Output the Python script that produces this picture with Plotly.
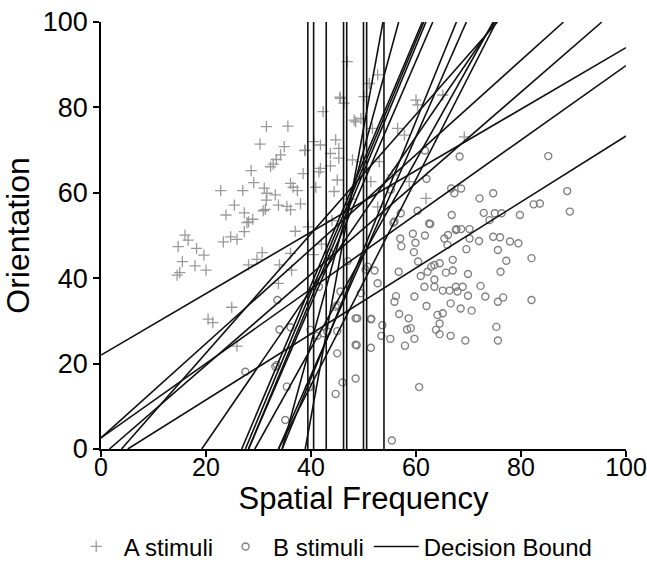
import plotly.graph_objects as go

# A stimuli (spatial frequency, orientation)
a_x = [46.9, 45.5, 46.3, 42.3, 48.2, 49.5, 31.5, 35.6, 30.3, 34.9, 38.8, 40.5, 41.8, 43.7, 44.7,
       45.3, 34.2, 33.4, 32.8, 32.3, 28.6, 41.8, 41.5, 43.7, 40.9, 29.1, 27.0, 22.8, 31.1, 31.6,
       33.2, 36.1, 36.6, 37.4, 38.0, 35.4, 36.1, 33.8, 31.5, 31.3, 30.9, 25.4, 23.8, 27.3, 28.9,
       28.1, 44.4, 45.0, 16.0, 16.6, 14.7, 18.2, 19.6, 15.5, 17.9, 20.0, 15.0, 14.5, 23.3, 24.7,
       25.9, 27.3, 27.8, 30.7, 29.7, 28.1, 24.9, 20.4, 21.3, 25.9, 34.0, 36.1, 33.8, 36.3, 38.9,
       45.6, 52.7, 51.1, 50.1, 60.0, 60.3, 65.1, 48.5, 51.7, 56.5, 57.8, 53.0, 49.5, 50.1, 47.9,
       45.3, 55.5, 58.7, 69.2, 61.9, 52.7, 51.4, 39.5, 42.0, 37.0, 40.5, 44.0, 47.5, 38.5]
a_y = [90.7, 82.4, 81.0, 79.0, 77.0, 77.4, 75.5, 75.6, 71.4, 70.8, 69.9, 72.0, 71.2, 69.2, 72.4,
       70.4, 68.9, 67.8, 66.7, 66.1, 65.2, 65.7, 64.9, 66.3, 61.3, 62.4, 60.5, 60.5, 61.1, 59.9,
       59.5, 62.2, 61.3, 60.5, 57.4, 56.8, 56.0, 57.1, 58.3, 56.1, 55.8, 57.1, 54.8, 55.3, 53.8,
       53.2, 60.3, 63.0, 50.1, 48.9, 47.4, 47.0, 45.4, 43.9, 42.9, 41.9, 41.3, 40.7, 48.5, 49.7,
       49.1, 50.9, 53.0, 46.0, 44.4, 43.1, 33.2, 30.4, 29.6, 24.1, 43.1, 45.8, 38.8, 41.9, 70.0,
       82.1, 87.6, 85.6, 82.5, 81.7, 80.6, 82.9, 76.6, 75.1, 75.1, 73.5, 67.3, 67.3, 65.3, 67.7,
       68.1, 64.2, 62.6, 73.1, 58.7, 56.7, 62.6, 52.0, 48.0, 51.0, 45.5, 53.5, 58.5, 64.5]

# B stimuli (spatial frequency, orientation)
b_x = [55.7, 62.7, 57.0, 57.2, 59.4, 59.9, 59.6, 61.7, 65.4, 66.1, 66.0, 67.7, 68.6, 70.2, 70.2,
       72.0, 69.6, 74.7, 76.0, 75.6, 77.9, 79.5, 82.0, 77.2, 76.1, 69.9, 67.0, 67.0, 65.7, 64.5,
       63.5, 62.2, 62.9, 60.4, 60.9, 63.5, 61.6, 63.5, 65.1, 66.4, 67.6, 68.9, 67.9, 69.9, 72.3,
       73.2, 75.6, 76.6, 82.0, 66.6, 68.5, 70.6, 65.1, 64.1, 64.5, 63.8, 64.5, 66.6, 69.4, 75.6,
       75.3, 62.0, 59.7, 56.2, 55.9, 56.8, 58.6, 58.3, 59.0, 59.7, 57.9, 55.1, 53.4, 53.6, 51.5,
       48.5, 48.7, 48.5, 46.0, 44.7, 45.0, 60.6, 55.4, 50.8, 52.1, 52.7, 50.4, 56.7, 61.7, 68.3,
       85.2, 66.7, 67.3, 68.6, 74.7, 72.1, 72.9, 75.0, 76.3, 79.8, 82.4, 83.6, 88.8, 89.3, 74.0,
       66.8, 62.5, 60.3, 57.1, 55.9, 62.0, 55.2, 67.6, 33.6, 34.0, 36.1, 39.9, 27.5, 33.2, 35.4,
       35.1, 40.0, 41.2, 44.7, 42.3, 45.6, 33.5, 39.6, 43.1, 45.0, 48.8, 51.4, 51.4, 45.0, 48.5,
       41.5, 47.0, 43.5, 49.5]
b_y = [53.0, 52.7, 49.3, 47.5, 50.4, 48.3, 46.1, 50.0, 49.3, 50.1, 47.8, 51.5, 51.5, 51.5, 49.3,
       48.7, 46.8, 49.7, 49.6, 46.6, 48.6, 48.2, 44.7, 44.1, 41.5, 41.0, 44.3, 41.8, 41.3, 43.5,
       43.1, 41.5, 42.7, 43.9, 40.5, 39.7, 38.0, 38.0, 37.1, 37.1, 38.0, 38.0, 36.9, 35.9, 38.2,
       35.7, 34.5, 35.5, 34.9, 34.1, 32.9, 32.4, 31.8, 31.4, 29.4, 27.9, 26.9, 26.5, 25.4, 25.4,
       28.6, 33.5, 35.7, 35.8, 34.5, 31.6, 30.6, 28.0, 28.3, 25.8, 24.2, 25.8, 26.5, 29.0, 30.5,
       30.6, 24.3, 16.5, 15.6, 12.9, 27.6, 14.5, 2.0, 42.7, 41.8, 38.8, 42.0, 41.5, 69.9, 68.5,
       68.6, 61.0, 59.9, 61.0, 59.9, 58.7, 55.3, 55.2, 55.2, 54.8, 57.3, 57.5, 60.4, 55.6, 53.6,
       54.8, 52.8, 55.8, 55.2, 53.3, 63.3, 60.7, 51.3, 34.9, 28.0, 28.5, 27.9, 18.1, 19.3, 14.6,
       6.8, 14.6, 26.5, 33.3, 27.1, 36.9, 19.7, 14.4, 27.5, 22.4, 30.6, 23.7, 30.4, 33.7, 24.4,
       38.0, 44.0, 46.0, 36.5]

# decision bounds: start and end points of each fitted boundary
bound_x0 = [39.4, 40.5, 42.9, 46.2, 46.8, 50.0, 50.6, 53.9,
            0.0, 0.0, 0.0, 1.6, 5.1,
            19.2, 3.9, 26.8, 27.5, 28.1, 29.3, 33.8, 34.5, 33.8, 38.9, 34.5, 28.1]
bound_y0 = [0, 0, 0, 0, 0, 0, 0, 0,
            22.0, 2.6, 2.6, 0, 0,
            0, 0, 0, 0, 0, 0, 0, 0, 0, 0, 0, 0]
bound_x1 = [39.4, 40.5, 42.9, 46.2, 46.8, 50.0, 50.6, 53.9,
            100, 88.1, 100, 95.4, 100,
            75.0, 75.5, 61.2, 61.5, 63.2, 74.7, 69.6, 67.7, 75.3, 53.7, 56.7, 61.9]
bound_y1 = [100, 100, 100, 100, 100, 100, 100, 100,
            94.0, 100, 89.8, 100, 73.3,
            100, 100, 100, 100, 100, 100, 100, 100, 100, 100, 100, 100]

line_x, line_y = [], []
for x0, y0, x1, y1 in zip(bound_x0, bound_y0, bound_x1, bound_y1):
    line_x += [x0, x1, None]
    line_y += [y0, y1, None]

fig = go.Figure()

fig.add_trace(go.Scatter(
    x=a_x, y=a_y, mode="markers", name="A stimuli",
    marker=dict(symbol="cross-thin-open", size=8, color="#9a9a9a",
                line=dict(color="#9a9a9a", width=1.3)),
))
fig.add_trace(go.Scatter(
    x=b_x, y=b_y, mode="markers", name="B stimuli",
    marker=dict(symbol="circle-open", size=7, color="#808080", line=dict(width=1.4)),
))
fig.add_trace(go.Scatter(
    x=line_x, y=line_y, mode="lines", name="Decision Bound",
    line=dict(color="#111111", width=1.6),
))

axis_style = dict(
    range=[0, 100], dtick=20, showgrid=False, zeroline=False, automargin=False,
    showline=True, linecolor="black", linewidth=1.5,
    ticks="outside", ticklen=6, tickcolor="black", tickwidth=1.5,
    ticklabeloverflow="allow",
)

fig.update_layout(
    width=647, height=572,
    margin=dict(l=101, r=21, t=22, b=123),
    plot_bgcolor="white", paper_bgcolor="white",
    font=dict(family="Liberation Sans, Arial, sans-serif", color="black"),
    xaxis=dict(title=dict(text="Spatial Frequency", font=dict(size=31), standoff=6),
               tickfont=dict(size=25, color="black"), ticklabelstandoff=-11, **axis_style),
    yaxis=dict(title=dict(text="Orientation", font=dict(size=32), standoff=4),
               tickfont=dict(size=27, color="black"), **axis_style),
    showlegend=True,
    legend=dict(orientation="h", xref="container", yref="container",
                x=0.515, xanchor="center", y=0.044, yanchor="middle",
                font=dict(size=24), itemwidth=45, tracegroupgap=0),
)

# drop the default page margin so the figure sits at the window's corner
fig.write_html("out.html", config={"displayModeBar": False},
               post_script="document.body.style.margin='0';")
